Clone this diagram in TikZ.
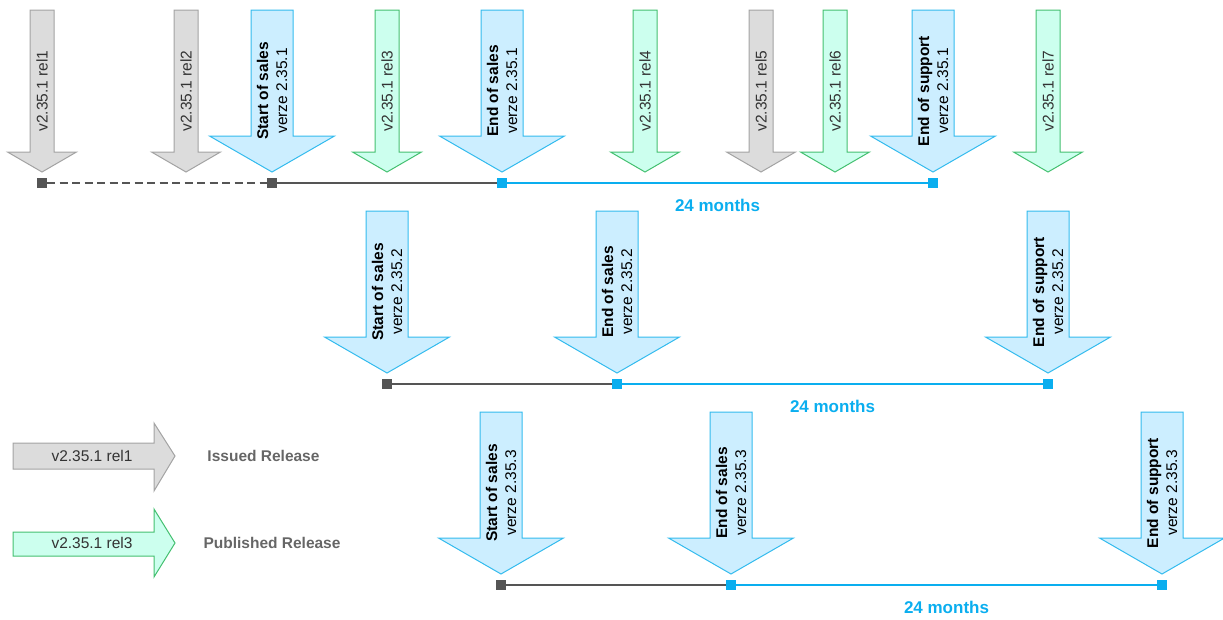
\documentclass[tikz,border=0pt]{standalone}
\usepackage{fontspec}
\setmainfont{Liberation Sans}
\definecolor{grayfill}{HTML}{DCDCDC}
\definecolor{graydraw}{HTML}{A3A3A3}
\definecolor{greenfill}{HTML}{CCFFEE}
\definecolor{greendraw}{HTML}{44C070}
\definecolor{bluefill}{HTML}{CCEEFF}
\definecolor{bluedraw}{HTML}{33BBEE}
\definecolor{linedark}{HTML}{555555}
\definecolor{lineblue}{HTML}{0AAEEF}
\definecolor{textgray}{HTML}{333333}
\definecolor{legendgray}{HTML}{666666}
\newcommand{\fs}{\fontsize{15.5}{19}\selectfont}
\newcommand{\RelArrow}[4]{%
  \draw[#3] ({#2-12},10) -- ({#2+12},10) -- ({#2+12},152) -- ({#2+34.5},152) -- (#2,172) -- ({#2-34.5},152) -- ({#2-12},152) -- cycle;
  \node[reltext] (#1) at (#2,91) {#4};}
\newcommand{\MsArrow}[4]{%
  \draw[milestone] ({#2-21},10) -- ({#2+21},10) -- ({#2+21},136) -- ({#2+62.5},136) -- (#2,172) -- ({#2-62.5},136) -- ({#2-21},136) -- cycle;
  \node[mstext] (#1) at (#2,91) {\textbf{#3}\\#4};}
\begin{document}
\begin{tikzpicture}[x=1pt,y=-1pt,
  issued/.style={draw=graydraw, fill=grayfill, line width=1pt},
  published/.style={draw=greendraw, fill=greenfill, line width=1pt},
  milestone/.style={draw=bluedraw, fill=bluefill, line width=1pt},
  reltext/.style={rotate=90, font=\fs, text=textgray, inner sep=0pt},
  mstext/.style={rotate=90, font=\fs, align=center, inner sep=0pt},
  darksq/.style={fill=linedark, minimum size=10pt, inner sep=0pt},
  bluesq/.style={fill=lineblue, minimum size=10pt, inner sep=0pt},
  darkline/.style={draw=linedark, line width=2pt},
  blueline/.style={draw=lineblue, line width=2pt},
  months/.style={font=\bfseries\fontsize{17}{20}\selectfont, text=lineblue},
  legendtext/.style={font=\bfseries\fs, text=legendgray}]
\useasboundingbox (0,0) rectangle (1223,619);
% ---------- row 1
\RelArrow{r1}{42}{issued}{v2.35.1 rel1}
\RelArrow{r2}{186}{issued}{v2.35.1 rel2}
\RelArrow{r3}{387}{published}{v2.35.1 rel3}
\RelArrow{r4}{645}{published}{v2.35.1 rel4}
\RelArrow{r5}{761}{issued}{v2.35.1 rel5}
\RelArrow{r6}{835}{published}{v2.35.1 rel6}
\RelArrow{r7}{1048}{published}{v2.35.1 rel7}
\MsArrow{a1}{272}{Start of sales}{verze 2.35.1}
\MsArrow{b1}{502}{End of sales}{verze 2.35.1}
\MsArrow{c1}{933}{End of support}{verze 2.35.1}
\node[darksq] (m0) at (42,183) {};
\node[darksq] (m1) at (272,183) {};
\node[bluesq] (m2) at (502,183) {};
\node[bluesq] (m3) at (933,183) {};
\draw[darkline, dash pattern=on 8pt off 4.5pt] (m0) -- (m1);
\draw[darkline] (m1) -- (m2);
\draw[blueline] (m2) -- (m3);
\node[months] (mo1) at (717.5,205) {24 months};
% ---------- row 2
\begin{scope}[shift={(115,201)}]
\MsArrow{a2}{272}{Start of sales}{verze 2.35.2}
\MsArrow{b2}{502}{End of sales}{verze 2.35.2}
\MsArrow{c2}{933}{End of support}{verze 2.35.2}
\node[darksq] (n1) at (272,183) {};
\node[bluesq] (n2) at (502,183) {};
\node[bluesq] (n3) at (933,183) {};
\draw[darkline] (n1) -- (n2);
\draw[blueline] (n2) -- (n3);
\node[months] (mo2) at (717.5,205) {24 months};
\end{scope}
% ---------- row 3
\begin{scope}[shift={(229,402)}]
\MsArrow{a3}{272}{Start of sales}{verze 2.35.3}
\MsArrow{b3}{502}{End of sales}{verze 2.35.3}
\MsArrow{c3}{933}{End of support}{verze 2.35.3}
\node[darksq] (p1) at (272,183) {};
\node[bluesq] (p2) at (502,183) {};
\node[bluesq] (p3) at (933,183) {};
\draw[darkline] (p1) -- (p2);
\draw[blueline] (p2) -- (p3);
\node[months] (mo3) at (717.5,205) {24 months};
\end{scope}
% ---------- legend
\draw[issued] (13,443) -- (154,443) -- (154,423) -- (175,456) -- (154,491) -- (154,469) -- (13,469) -- cycle;
\node[font=\fs, text=textgray] (lg1) at (92,456) {v2.35.1 rel1};
\node[legendtext] (lt1) at (263.5,456) {Issued Release};
\draw[published] (13,532) -- (154,532) -- (154,509) -- (175,543) -- (154,577) -- (154,556) -- (13,556) -- cycle;
\node[font=\fs, text=textgray] (lg2) at (92,543) {v2.35.1 rel3};
\node[legendtext] (lt2) at (272,543) {Published Release};
\end{tikzpicture}
\end{document}
